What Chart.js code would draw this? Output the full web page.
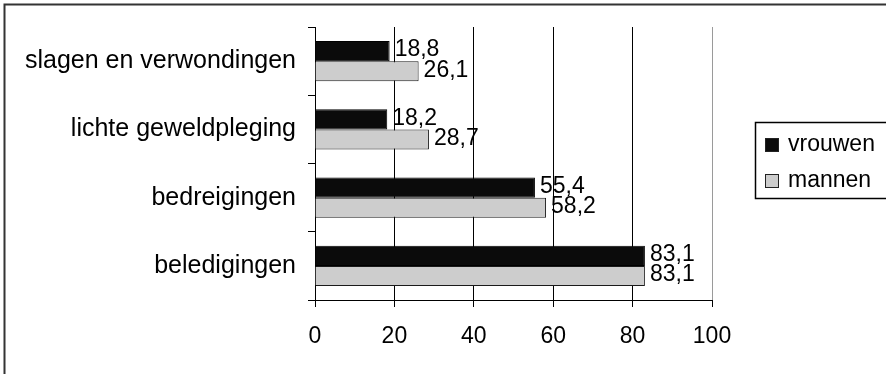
<!DOCTYPE html>
<html>
<head>
<meta charset="utf-8">
<script src="https://cdn.jsdelivr.net/npm/chart.js@4.4.1/dist/chart.umd.min.js"></script>
<style>
  html, body { margin: 0; padding: 0; background: #ffffff; }
  #wrap { width: 886px; height: 374px; position: relative; }
</style>
</head>
<body>
<div id="wrap"><canvas id="c" width="886" height="374"></canvas></div>
<script>
const categories = ["slagen en verwondingen", "lichte geweldpleging", "bedreigingen", "beledigingen"];
const seriesNames = ["vrouwen", "mannen"];
const vrouwen = [18.8, 18.2, 55.4, 83.1];
const mannen = [26.1, 28.7, 58.2, 83.1];
const xTicks = [0, 20, 40, 60, 80, 100];

const FONT = "'Liberation Sans', Arial, Helvetica, sans-serif";

const frame = {
  id: 'frame',
  beforeDraw(chart) {
    const ctx = chart.ctx;
    ctx.save();
    ctx.fillStyle = '#ffffff';
    ctx.fillRect(0, 0, chart.width, chart.height);
    ctx.strokeStyle = '#333333';
    ctx.lineWidth = 2;
    ctx.beginPath();
    ctx.moveTo(4.5, chart.height + 10);
    ctx.lineTo(4.5, 4.5);
    ctx.lineTo(chart.width + 10, 4.5);
    ctx.stroke();
    ctx.restore();
  }
};

const valueLabels = {
  id: 'valueLabels',
  afterDatasetsDraw(chart) {
    const ctx = chart.ctx;
    ctx.save();
    ctx.font = '23px ' + FONT;
    ctx.fillStyle = '#000000';
    ctx.textAlign = 'left';
    ctx.textBaseline = 'middle';
    chart.data.datasets.forEach((ds, i) => {
      const meta = chart.getDatasetMeta(i);
      meta.data.forEach((el, j) => {
        const txt = ds.data[j].toFixed(1).replace('.', ',');
        ctx.fillText(txt, el.x + 5, el.y - 1);
      });
    });
    ctx.restore();
  }
};

const boxLegend = {
  id: 'boxLegend',
  afterDraw(chart) {
    const ctx = chart.ctx;
    ctx.save();
    ctx.strokeStyle = '#000000';
    ctx.lineWidth = 1.5;
    ctx.strokeRect(755.5, 122.5, 150, 76);
    ctx.font = '23px ' + FONT;
    ctx.textAlign = 'left';
    ctx.textBaseline = 'middle';
    chart.data.datasets.forEach((ds, i) => {
      const cy = 145 + i * 36;
      ctx.fillStyle = ds.backgroundColor;
      ctx.fillRect(765, cy - 7, 14, 14);
      ctx.strokeStyle = '#222222';
      ctx.lineWidth = 1;
      ctx.strokeRect(765.5, cy - 6.5, 13, 13);
      ctx.fillStyle = '#000000';
      ctx.fillText(ds.label, 788, cy);
    });
    ctx.restore();
  }
};

new Chart(document.getElementById('c'), {
  type: 'bar',
  data: {
    labels: categories,
    datasets: [
      { label: seriesNames[0], data: vrouwen, backgroundColor: '#0b0b0b', borderColor: '#000000', borderWidth: 1, borderSkipped: 'start' },
      { label: seriesNames[1], data: mannen, backgroundColor: '#cdcdcd', borderColor: '#1a1a1a', borderWidth: 1, borderSkipped: 'start' }
    ]
  },
  options: {
    indexAxis: 'y',
    responsive: false,
    animation: false,
    devicePixelRatio: 1,
    layout: { padding: { left: 0, right: 174, top: 22, bottom: 0 } },
    datasets: { bar: { categoryPercentage: 0.59, barPercentage: 1.0 } },
    plugins: { legend: { display: false }, tooltip: { enabled: false } },
    scales: {
      x: {
        type: 'linear',
        min: 0, max: 100,
        afterBuildTicks(scale) { scale.ticks = xTicks.map(v => ({ value: v })); },
        afterFit(scale) { scale.height = 74; },
        ticks: { color: '#000000', font: { family: FONT, size: 23 }, padding: 16, maxRotation: 0 },
        grid: {
          color: (c) => (c.tick && c.tick.value === 100) ? '#9a9a9a' : '#000000',
          tickColor: '#000000',
          tickLength: 7,
          lineWidth: 1
        },
        border: { display: true, color: '#000000', width: 1 }
      },
      y: {
        afterFit(scale) { scale.width = 315; },
        ticks: { color: '#000000', font: { family: FONT, size: 25 }, padding: 12 },
        grid: { drawOnChartArea: false, drawTicks: true, tickLength: 7, color: '#000000', offset: true },
        border: { display: true, color: '#000000', width: 1 }
      }
    }
  },
  plugins: [frame, valueLabels, boxLegend]
});
</script>
</body>
</html>
